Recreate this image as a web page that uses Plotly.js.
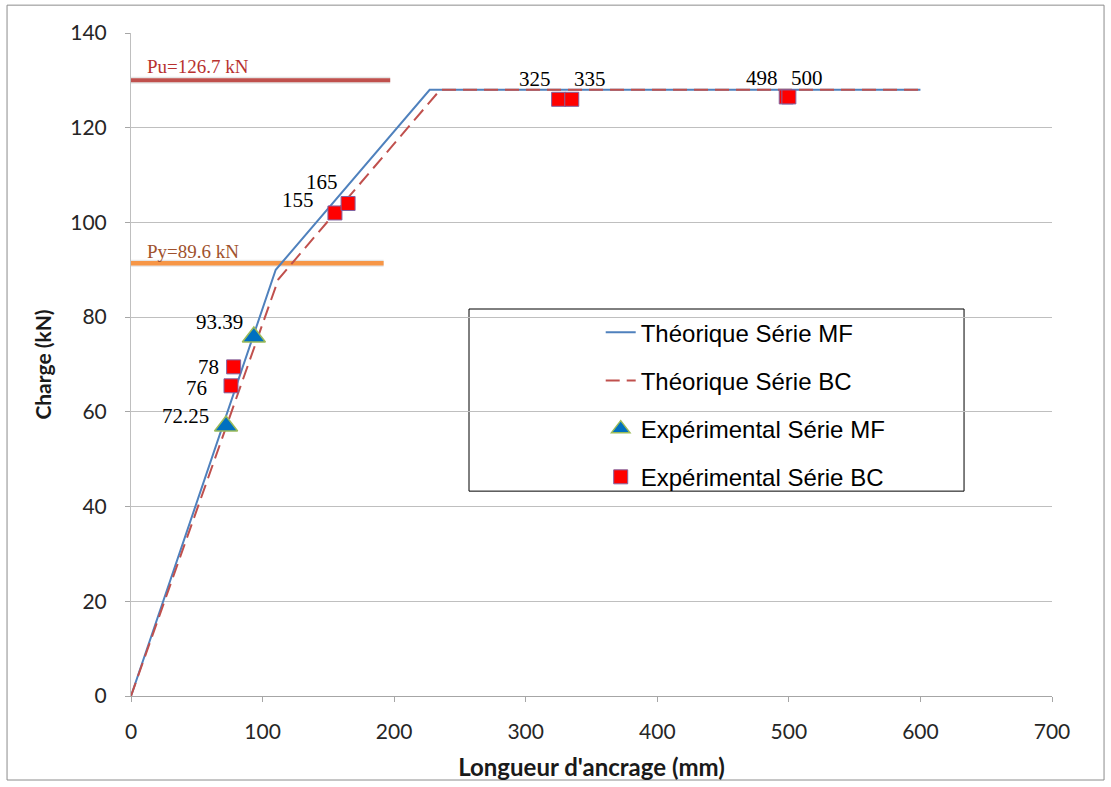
<!DOCTYPE html>
<html>
<head>
<meta charset="utf-8">
<script src="https://cdn.plot.ly/plotly-3.0.1.min.js"></script>
<style>
html,body{margin:0;padding:0;background:#fff;}
#chart{width:1111px;height:787px;}
</style>
</head>
<body>
<div id="chart"></div>
<script>
// Theoretical curves
const theoMF_x = [0, 110, 227, 600];
const theoMF_y = [0, 90, 128, 128];
const theoBC_x = [0, 112, 235, 600];
const theoBC_y = [0, 88, 128, 128];

// Experimental points
const expMF_x = [72.25, 93.39];
const expMF_y = [57, 75.8];
const expMF_labels = ["72.25", "93.39"];

const expBC_x = [76, 78, 155, 165, 325, 335, 498, 500];
const expBC_y = [65.5, 69.5, 102, 104, 126, 126, 126.5, 126.5];
const expBC_labels = ["76", "78", "155", "165", "325", "335", "498", "500"];

// Reference load lines
const pu_x = [0, 197];
const pu_y = [130, 130];
const pu_label = "Pu=126.7 kN";
const py_x = [0, 192];
const py_y = [91.4, 91.4];
const py_label = "Py=89.6 kN";

// label pixel offsets (style only)
const mfLabelShift = [[-41, 10], [-34, 15]];
const bcLabelShift = [[-34, -2], [-25, 0], [-37, 13], [-26, 21], [-24, 20], [18, 20], [-24, 19], [18, 19]];

const serif = "Liberation Serif, Times New Roman, serif";
const sans = "Lato, Liberation Sans, Arial, sans-serif";

const traces = [
  {x: pu_x, y: pu_y, mode: "lines", line: {color: "rgba(0,0,0,0.10)", width: 7}, showlegend: false, hoverinfo: "skip"},
  {x: pu_x, y: pu_y, mode: "lines", line: {color: "#c0504d", width: 4}, showlegend: false, hoverinfo: "skip"},
  {x: py_x, y: py_y, mode: "lines", line: {color: "rgba(0,0,0,0.10)", width: 7}, showlegend: false, hoverinfo: "skip"},
  {x: py_x, y: py_y, mode: "lines", line: {color: "#f79646", width: 4.5}, showlegend: false, hoverinfo: "skip"},
  {x: theoMF_x, y: theoMF_y, mode: "lines", name: "Théorique Série MF", legendgroup: "a",
   line: {color: "#4f81bd", width: 2}},
  {x: theoBC_x, y: theoBC_y, mode: "lines", name: "Théorique Série BC", legendgroup: "b",
   line: {color: "#c0504d", width: 2, dash: "14px,7px"}},
  {x: expMF_x, y: expMF_y, mode: "markers", name: "Expérimental Série MF", legendgroup: "c",
   marker: {symbol: "triangle-up", size: 20, color: "#0070c0", line: {color: "#9bbb59", width: 1.5}}},
  {x: expBC_x, y: expBC_y, mode: "markers", name: "Expérimental Série BC", legendgroup: "d",
   marker: {symbol: "square", size: 14, color: "#ff0000", line: {color: "#8064a2", width: 1}}}
];

const annotations = [
  {x: 10.6, y: pu_y[0], xref: "x", yref: "y", text: pu_label, showarrow: false,
   xanchor: "left", yanchor: "middle", yshift: 14, font: {family: serif, size: 19, color: "#b8312f"}},
  {x: 10.6, y: py_y[0], xref: "x", yref: "y", text: py_label, showarrow: false,
   xanchor: "left", yanchor: "middle", yshift: 12, font: {family: serif, size: 19, color: "#a0522d"}}
];
expMF_x.forEach((v, i) => annotations.push({
  x: v, y: expMF_y[i], xref: "x", yref: "y", text: expMF_labels[i], showarrow: false,
  xanchor: "center", yanchor: "middle", xshift: mfLabelShift[i][0], yshift: mfLabelShift[i][1],
  font: {family: serif, size: 21, color: "#000"}
}));
expBC_x.forEach((v, i) => annotations.push({
  x: v, y: expBC_y[i], xref: "x", yref: "y", text: expBC_labels[i], showarrow: false,
  xanchor: "center", yanchor: "middle", xshift: bcLabelShift[i][0], yshift: bcLabelShift[i][1],
  font: {family: serif, size: 21, color: "#000"}
}));

const layout = {
  width: 1111, height: 787,
  margin: {l: 131, r: 59, t: 33, b: 91},
  paper_bgcolor: "#fff", plot_bgcolor: "#fff",
  font: {family: sans, color: "#404040"},
  xaxis: {
    range: [0, 700], dtick: 100, tick0: 0, showgrid: false, zeroline: false,
    showline: true, linecolor: "#a6a6a6", linewidth: 1,
    ticks: "outside", ticklen: 5, tickcolor: "#a6a6a6", ticklabelstandoff: 12,
    tickfont: {family: sans, size: 21, color: "#262626"},
    title: {text: "Longueur d'ancrage (mm)", font: {family: sans, size: 24, color: "#1a1a1a", weight: "bold"}, standoff: 16}
  },
  yaxis: {
    range: [0, 140], dtick: 20, tick0: 0, showgrid: true, gridcolor: "#bfbfbf", gridwidth: 1,
    zeroline: false, showline: true, linecolor: "#bfbfbf", linewidth: 1,
    ticks: "outside", ticklen: 5, tickcolor: "#a6a6a6", ticklabelstandoff: 14,
    tickfont: {family: sans, size: 21, color: "#262626"},
    title: {text: "Charge (kN)", font: {family: sans, size: 21, color: "#1a1a1a", weight: "bold"}, standoff: 12}
  },
  legend: {
    x: 0.51, y: 0.582, xanchor: "left", yanchor: "top",
    bgcolor: "rgba(0,0,0,0)", borderwidth: 0,
    font: {family: "Liberation Sans, Arial, sans-serif", size: 24, color: "#000"},
    traceorder: "grouped", tracegroupgap: 14
  },
  shapes: [
    {type: "rect", xref: "paper", yref: "paper", x0: 0.367, x1: 0.9045, y0: 0.309, y1: 0.5837,
     line: {color: "#000", width: 1}, fillcolor: "rgba(255,255,255,1)", layer: "below"},
    {type: "rect", xref: "paper", yref: "paper", x0: -0.1346, x1: 1.0565, y0: -0.1267, y1: 1.042,
     line: {color: "#8c8c8c", width: 1}, layer: "below"}
  ],
  annotations: annotations
};

Plotly.newPlot("chart", traces, layout, {displayModeBar: false, staticPlot: true});
</script>
</body>
</html>
